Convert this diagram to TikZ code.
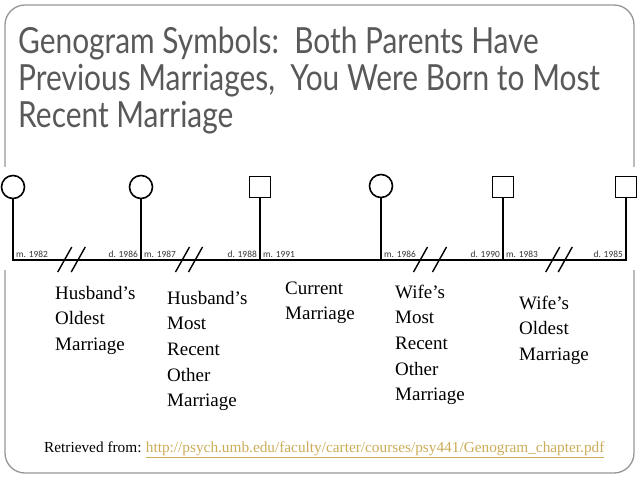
\documentclass[tikz,border=0pt]{standalone}
\usepackage{fontspec}
\setmainfont{Liberation Serif}
\newfontfamily\titlefont[FakeStretch=0.83]{Lato}
\newfontfamily\datefont{Carlito}
\usetikzlibrary{positioning}
\definecolor{titlegray}{RGB}{89,89,89}
\definecolor{framegray}{RGB}{150,150,150}
\definecolor{linkgold}{RGB}{204,172,88}

\begin{document}
\begin{tikzpicture}[
    x=1pt, y=-1pt,
    person/.style={draw, line width=1.6pt, inner sep=0pt},
    female/.style={person, circle, minimum size=23pt},
    male/.style={person, rectangle, minimum size=21pt},
    tie/.style={line width=1.4pt},
    datelbl/.style={font=\datefont\fontsize{9.4}{10}\selectfont, text=black!80, inner sep=1.5pt, yshift=1pt},
    mlbl/.style={datelbl, anchor=south west, xshift=1.5pt},
    dlbl/.style={datelbl, anchor=south east, xshift=-1.5pt},
    marlbl/.style={font=\fontsize{19}{25.7}\selectfont, align=left, anchor=base west, inner sep=0pt}
]
\useasboundingbox (0,0) rectangle (640,480);

% --- Slide frame ---
\draw[framegray, line width=1.3pt, rounded corners=20pt] (5,5) rectangle (634,473);

% --- Title (anchored on its last line) ---
\node[anchor=base west, align=left, inner sep=0pt, text=titlegray,
      font=\titlefont\fontsize{36}{37}\selectfont] (title) at (18,127)
    {Genogram Symbols:\ \ Both Parents Have\\
     Previous Marriages,\ \ You Were Born to Most\\
     Recent Marriage};

% --- Genogram (white backing of the pasted figure) ---
\fill[white] (0,167) rectangle (640,270);
\coordinate (base) at (0,260);

% People: circles are women, squares are men
\node[female] (exwifeA) at (13,187)  {};
\node[female] (exwifeB) at (141,187) {};
\node[male]   (husband) at (260,187) {};
\node[female] (wife)    at (381,186) {};
\node[male]   (exhusA)  at (503,187) {};
\node[male]   (exhusB)  at (626,187) {};

\foreach \p in {exwifeA,exwifeB,husband,wife,exhusA,exhusB}
    \coordinate (\p-foot) at (\p.south |- base);

% Marriage line with the drop lines
\draw[tie] (exwifeA.south) -- (exwifeA-foot) -- (exhusB-foot) -- (exhusB.south);
\foreach \p in {exwifeB,husband,wife,exhusA}
    \draw[tie] (\p.south) -- (\p-foot);

% Divorce marks
\foreach \c/\s in {71.5/13.5, 189/13, 430/19, 559/12.5} {
    \draw[tie] ({\c-\s/2-7},272) -- ({\c-\s/2+7},247);
    \draw[tie] ({\c+\s/2-7},272) -- ({\c+\s/2+7},247);
}

% Dates
\node[mlbl] (m82) at (exwifeA-foot) {m. 1982};
\node[dlbl] (d86) at (exwifeB-foot) {d. 1986};
\node[mlbl] (m87) at (exwifeB-foot) {m. 1987};
\node[dlbl] (d88) at (husband-foot) {d. 1988};
\node[mlbl] (m91) at (husband-foot) {m. 1991};
\node[mlbl] (m86) at (wife-foot)    {m. 1986};
\node[dlbl] (d90) at (exhusA-foot)  {d. 1990};
\node[mlbl] (m83) at (exhusA-foot)  {m. 1983};
\node[dlbl] (d85) at (exhusB-foot)  {d. 1985};

% --- Marriage captions (anchored on their last line) ---
\node[marlbl] (husOldest)  at (55,350.4)  {Husband’s\\Oldest\\Marriage};
\node[marlbl] (husRecent)  at (167,406.8) {Husband’s\\Most\\Recent\\Other\\Marriage};
\node[marlbl] (current)    at (285,319.7) {Current\\Marriage};
\node[marlbl] (wifeRecent) at (395,400.8) {Wife’s\\Most\\Recent\\Other\\Marriage};
\node[marlbl] (wifeOldest) at (519,360.4) {Wife’s\\Oldest\\Marriage};

% --- Source ---
\node[anchor=base west, inner sep=0pt, font=\fontsize{15.3}{18}\selectfont]
    (retrieved) at (44,452) {Retrieved from:};
\node[base right=4pt of retrieved, inner sep=0pt, text=linkgold,
      font=\fontsize{15.3}{18}\selectfont]
    (link) {\underline{http://psych.umb.edu/faculty/carter/courses/psy441/Genogram\_chapter.pdf}};

\end{tikzpicture}
\end{document}
